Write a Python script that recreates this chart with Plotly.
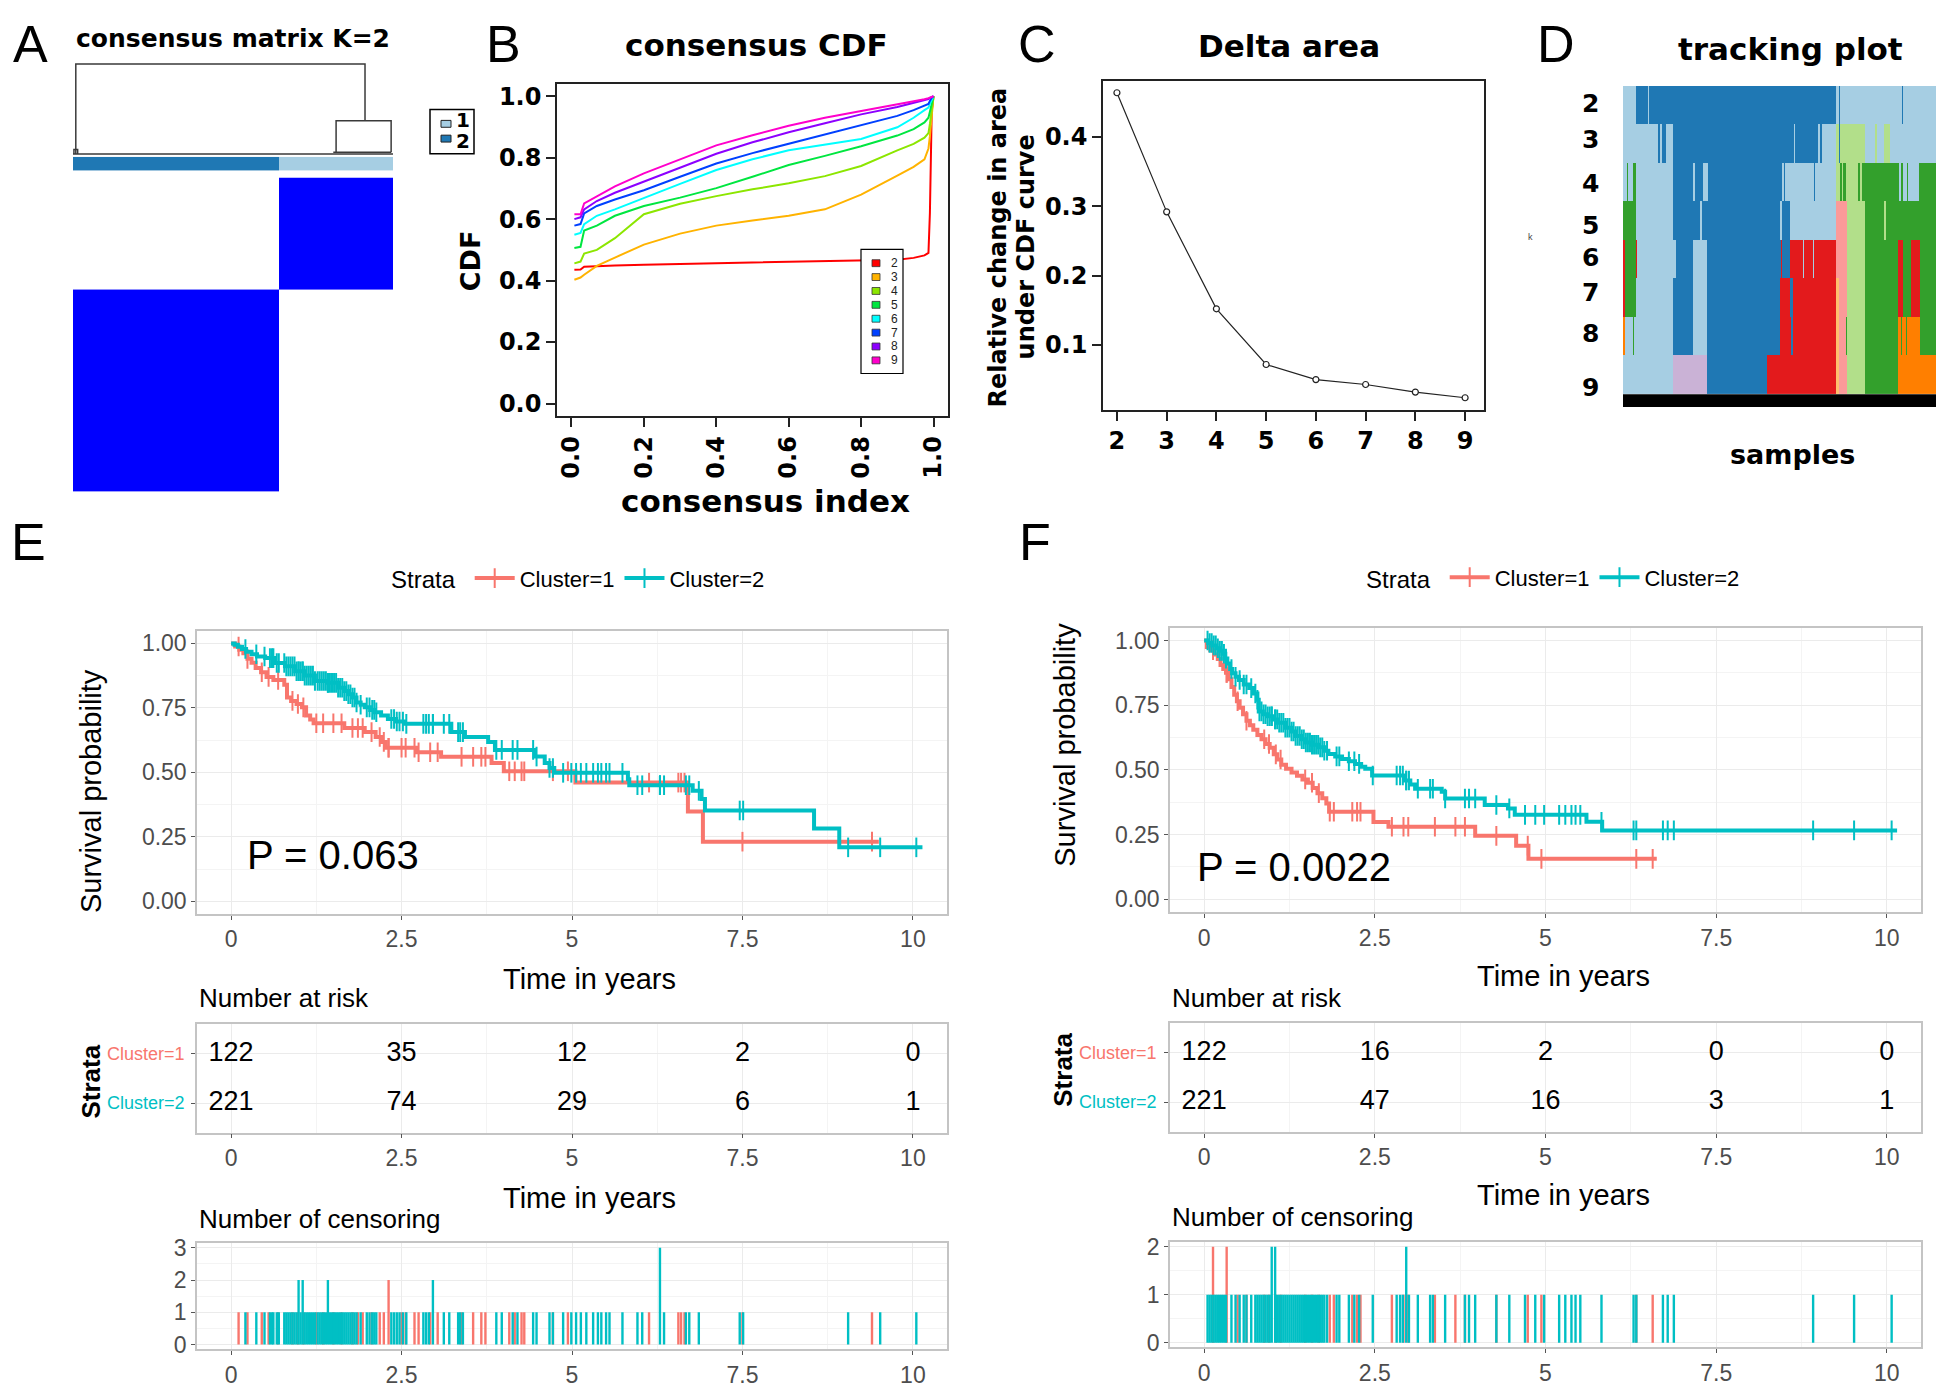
import numpy as np
import plotly.graph_objects as go

W, H = 1944, 1396          # browser window
OX, OY = 8, 8              # default page margin around the plot div
FW, FH = W - 2 * OX, H - 2 * OY
SANS = "Liberation Sans, Arial, sans-serif"
HEAVY = "DejaVu Sans, Verdana, sans-serif"
RED, TEAL = "#F8766D", "#00BFC4"

# ---------------- A: consensus matrix K=2 ----------------
matrix_col_sizes = [221, 122]          # columns: cluster 2 | cluster 1
matrix_row_sizes = [122, 221]          # rows (top to bottom): cluster 1 | cluster 2
matrix_values = [[0.0, 1.0], [1.0, 0.0]]
cluster_bar = [[1, 0]]                 # 1 = cluster 2 (dark), 0 = cluster 1 (light)
cluster_colors = ["#A6CEE3", "#1F78B4"]
dendro_x = [3, 3, 313, 313, None, 282, 282, 341, 341, None, 0, 343, None, 279, 341, None, 1, 1, 5, 5]
dendro_h = [0, 1, 1, 0.37, None, 0.02, 0.37, 0.37, 0.02, None, 0, 0, None, 0.02, 0.02, None, 0, 0.05, 0.05, 0]

# ---------------- B: consensus CDF ----------------
cdf_index = [0.008, 0.025, 0.035, 0.07, 0.12, 0.2, 0.3, 0.4, 0.5, 0.6, 0.7, 0.8, 0.9, 0.945, 0.975, 0.986, 0.99, 0.995, 1.0]
cdf_k2 = [0.435, 0.436, 0.445, 0.447, 0.449, 0.452, 0.454, 0.457, 0.459, 0.461, 0.463, 0.465, 0.468, 0.474, 0.482, 0.49, 0.62, 0.95, 1.0]
cdf_k3 = [0.403, 0.41, 0.419, 0.448, 0.475, 0.517, 0.553, 0.579, 0.596, 0.611, 0.632, 0.68, 0.742, 0.77, 0.795, 0.83, 0.87, 0.95, 1.0]
cdf_k4 = [0.456, 0.462, 0.488, 0.5, 0.538, 0.616, 0.65, 0.675, 0.697, 0.717, 0.74, 0.773, 0.824, 0.845, 0.865, 0.88, 0.91, 0.96, 1.0]
cdf_k5 = [0.506, 0.51, 0.563, 0.579, 0.611, 0.643, 0.67, 0.701, 0.738, 0.776, 0.806, 0.837, 0.872, 0.893, 0.915, 0.93, 0.95, 0.98, 1.0]
cdf_k6 = [0.549, 0.555, 0.584, 0.611, 0.632, 0.67, 0.715, 0.76, 0.795, 0.824, 0.843, 0.861, 0.899, 0.93, 0.955, 0.963, 0.975, 0.99, 1.0]
cdf_k7 = [0.579, 0.584, 0.619, 0.643, 0.664, 0.694, 0.738, 0.781, 0.815, 0.845, 0.876, 0.907, 0.936, 0.955, 0.97, 0.975, 0.985, 0.995, 1.0]
cdf_k8 = [0.6, 0.606, 0.632, 0.659, 0.686, 0.723, 0.768, 0.813, 0.85, 0.883, 0.912, 0.941, 0.965, 0.978, 0.988, 0.991, 0.995, 0.998, 1.0]
cdf_k9 = [0.616, 0.616, 0.651, 0.675, 0.707, 0.749, 0.795, 0.84, 0.873, 0.904, 0.93, 0.952, 0.972, 0.982, 0.99, 0.994, 0.996, 0.998, 1.0]
cdf_curves = {2: cdf_k2, 3: cdf_k3, 4: cdf_k4, 5: cdf_k5, 6: cdf_k6, 7: cdf_k7, 8: cdf_k8, 9: cdf_k9}
cdf_colors = ["#FF0000", "#FFB300", "#8CE600", "#00E640", "#00FFFF", "#0040FF", "#8C00FF", "#FF00CC"]

# ---------------- C: delta area ----------------
delta_k = [2, 3, 4, 5, 6, 7, 8, 9]
delta_area = [0.464, 0.292, 0.152, 0.0716, 0.0498, 0.0427, 0.0317, 0.0236]

# ---------------- D: tracking plot ----------------
n_samples = 343
track_k = [2, 3, 4, 5, 6, 7, 8, 9]
track_palette = ["#A6CEE3", "#1F78B4", "#B2DF8A", "#33A02C", "#FB9A99",
                 "#E31A1C", "#FDBF6F", "#FF7F00", "#CAB2D6"]
# runs of (last sample index, cluster colour code)
track_runs = {
    2: [(14, 0), (27, 1), (28, 0), (233, 1), (237, 0), (238, 1), (306, 0), (307, 1), (343, 0)],
    3: [(38, 0), (41, 1), (43, 0), (47, 1), (55, 0), (187, 1), (189, 0), (214, 1), (216, 0), (218, 1),
        (233, 0), (237, 2), (238, 1), (265, 2), (276, 0), (278, 2), (286, 0), (293, 2), (343, 0)],
    4: [(4, 0), (6, 3), (11, 0), (14, 3), (55, 0), (77, 1), (79, 0), (88, 1), (93, 0), (174, 1), (176, 0),
        (177, 1), (209, 0), (210, 1), (233, 0), (238, 2), (240, 3), (241, 2), (244, 3), (258, 2), (260, 3),
        (262, 2), (303, 3), (305, 0), (307, 3), (311, 0), (312, 3), (324, 0), (343, 3)],
    5: [(14, 3), (55, 0), (84, 1), (87, 0), (172, 1), (174, 0), (183, 1), (233, 0), (246, 4), (265, 2),
        (286, 3), (288, 2), (343, 3)],
    6: [(2, 5), (14, 3), (15, 5), (58, 0), (77, 1), (92, 0), (173, 1), (174, 5), (183, 1), (197, 5), (198, 0),
        (208, 5), (209, 0), (233, 5), (246, 4), (265, 2), (301, 3), (307, 5), (316, 3), (325, 5), (343, 3)],
    7: [(2, 5), (14, 3), (55, 0), (77, 1), (92, 0), (172, 1), (183, 5), (186, 1), (233, 5), (237, 6), (246, 4),
        (265, 2), (301, 3), (307, 5), (316, 3), (325, 5), (343, 3)],
    8: [(2, 7), (5, 0), (6, 3), (11, 0), (12, 3), (55, 0), (77, 1), (92, 0), (172, 1), (184, 5), (186, 1),
        (233, 5), (237, 6), (244, 4), (246, 3), (265, 2), (301, 3), (305, 7), (306, 3), (310, 7), (311, 3),
        (326, 7), (343, 3)],
    9: [(55, 0), (92, 8), (158, 1), (233, 5), (237, 6), (246, 4), (265, 2), (301, 3), (343, 7)],
}

# ---------------- E / F: survival ----------------
risk_times = [0, 2.5, 5, 7.5, 10]

e_c1_t = [0.00, 0.06, 0.12, 0.18, 0.24, 0.30, 0.36, 0.44, 0.52, 0.62, 0.78, 0.82, 0.88, 0.96, 1.04, 1.10, 1.16,
          1.21, 1.66, 1.96, 2.12, 2.20, 2.27, 2.72, 3.08, 3.82, 4.00, 5.05, 6.70, 6.92]
e_c1_s = [1.000, 0.988, 0.975, 0.962, 0.940, 0.925, 0.905, 0.888, 0.870, 0.858, 0.840, 0.790, 0.777, 0.765,
          0.752, 0.720, 0.705, 0.690, 0.672, 0.656, 0.637, 0.618, 0.595, 0.578, 0.560, 0.536, 0.504, 0.460,
          0.348, 0.231]
e_c1_cens = [0.11, 0.24, 0.45, 0.55, 0.69, 0.90, 0.98, 1.06, 1.25, 1.35, 1.50, 1.62, 1.78, 1.86, 1.93, 2.06,
             2.18, 2.24, 2.31, 2.31, 2.50, 2.56, 2.69, 2.75, 2.92, 3.03, 3.38, 3.55, 3.67, 3.73, 4.08, 4.16,
             4.26, 4.30, 4.72, 4.94, 6.13, 6.56, 6.60, 6.65, 7.50, 9.40]
e_c1_last = 9.5

e_c2_t = [0.00, 0.05, 0.10, 0.16, 0.22, 0.30, 0.38, 0.50, 0.64, 0.79, 0.94, 1.08, 1.23, 1.42, 1.57, 1.66, 1.72,
          1.78, 1.84, 1.90, 1.96, 2.04, 2.11, 2.20, 2.30, 2.42, 2.55, 3.23, 3.43, 3.77, 3.87, 4.45, 4.60, 4.67,
          4.74, 5.82, 5.84, 6.77, 6.90, 6.95, 8.55, 8.92]
e_c2_s = [1.000, 0.995, 0.987, 0.978, 0.968, 0.958, 0.949, 0.943, 0.924, 0.911, 0.892, 0.875, 0.854, 0.847,
          0.828, 0.815, 0.803, 0.790, 0.771, 0.762, 0.752, 0.742, 0.733, 0.720, 0.707, 0.697, 0.688, 0.656,
          0.637, 0.618, 0.587, 0.561, 0.536, 0.517, 0.498, 0.473, 0.450, 0.428, 0.396, 0.352, 0.282, 0.209]
e_c2_cens = [0.21, 0.37, 0.49, 0.57, 0.60, 0.62, 0.67, 0.70,
             0.78, 0.81, 0.84, 0.87, 0.90, 0.93, 0.96, 0.99, 0.99, 1.02, 1.05, 1.05, 1.08, 1.11, 1.14, 1.17,
             1.20, 1.23, 1.27, 1.30, 1.33, 1.36, 1.39, 1.42, 1.42, 1.45, 1.48, 1.51, 1.54, 1.57, 1.60, 1.63,
             1.66, 1.69, 1.72, 1.75, 1.78, 1.81, 1.84, 1.90, 1.99, 2.03, 2.07, 2.10, 2.13, 2.35, 2.39, 2.43,
             2.47, 2.52, 2.57, 2.82, 2.86, 2.90, 2.96, 2.96, 3.12, 3.20, 3.33, 3.36, 3.40, 3.89, 3.97, 4.13,
             4.20, 4.43, 4.48, 4.67, 4.72, 4.87, 4.99, 5.06, 5.13, 5.21, 5.31, 5.38, 5.43, 5.50, 5.55, 5.74,
             5.96, 6.03, 6.29, 6.29, 6.29, 6.35, 6.67, 6.72, 6.86, 7.46, 7.51, 9.05, 9.52, 10.05]
e_c2_last = 10.14
e_risk_c1 = [122, 35, 12, 2, 0]
e_risk_c2 = [221, 74, 29, 6, 1]
e_pvalue = "P = 0.063"

f_c1_t = [0.00, 0.04, 0.09, 0.15, 0.20, 0.24, 0.28, 0.32, 0.36, 0.40, 0.44, 0.48, 0.52, 0.57, 0.62, 0.67, 0.72,
          0.78, 0.84, 0.90, 0.96, 1.02, 1.07, 1.13, 1.20, 1.28, 1.36, 1.44, 1.52, 1.59, 1.66, 1.73, 1.79, 1.83,
          2.48, 2.70, 3.97, 4.57, 4.75]
f_c1_s = [1.000, 0.975, 0.962, 0.946, 0.928, 0.905, 0.890, 0.875, 0.850, 0.820, 0.790, 0.765, 0.740, 0.715,
          0.690, 0.672, 0.655, 0.635, 0.618, 0.600, 0.585, 0.560, 0.540, 0.520, 0.504, 0.490, 0.477, 0.463,
          0.450, 0.430, 0.410, 0.390, 0.370, 0.338, 0.298, 0.280, 0.245, 0.207, 0.156]
f_c1_cens = [0.13, 0.13, 0.33, 0.33, 0.49, 0.62, 0.88, 0.95, 1.05, 1.12, 1.48, 1.58, 1.68, 1.84, 1.90, 2.17,
             2.24, 2.29, 2.75, 2.92, 2.99, 3.38, 3.68, 3.82, 4.28, 4.74, 4.94, 6.33, 6.57]
f_c1_last = 6.63

f_c2_t = [0.00, 0.06, 0.12, 0.18, 0.23, 0.27, 0.31, 0.34, 0.38, 0.41, 0.46, 0.51, 0.58, 0.66, 0.72, 0.78, 0.80,
          0.86, 0.92, 1.00, 1.08, 1.19, 1.28, 1.34, 1.42, 1.48, 1.58, 1.68, 1.76, 1.82, 1.92, 2.02, 2.12, 2.21,
          2.30, 2.36, 2.46, 2.94, 3.02, 3.09, 3.48, 3.53, 4.11, 4.45, 4.55, 5.60, 5.83]
f_c2_s = [1.000, 0.990, 0.981, 0.970, 0.960, 0.949, 0.930, 0.911, 0.890, 0.873, 0.860, 0.847, 0.830, 0.816,
          0.795, 0.771, 0.726, 0.715, 0.707, 0.695, 0.682, 0.663, 0.648, 0.631, 0.618, 0.606, 0.597, 0.587,
          0.574, 0.561, 0.552, 0.542, 0.533, 0.523, 0.512, 0.504, 0.478, 0.459, 0.443, 0.427, 0.415, 0.389,
          0.364, 0.351, 0.326, 0.299, 0.266]
f_c2_cens = [0.05, 0.08, 0.11, 0.14, 0.17, 0.20, 0.23, 0.26, 0.29, 0.32, 0.40, 0.46, 0.52, 0.58, 0.62, 0.69,
             0.75, 0.78, 0.81, 0.84, 0.87, 0.90, 0.93, 0.96, 0.99, 0.99, 1.04, 1.04, 1.07, 1.10, 1.13, 1.16,
             1.19, 1.22, 1.25, 1.28, 1.31, 1.34, 1.37, 1.40, 1.43, 1.46, 1.49, 1.52, 1.55, 1.58, 1.61, 1.64,
             1.67, 1.70, 1.73, 1.76, 1.80, 1.94, 1.98, 2.12, 2.20, 2.27, 2.47, 2.82, 2.87, 2.91, 2.96, 2.96,
             3.00, 3.13, 3.31, 3.35, 3.53, 3.82, 3.88, 3.97, 4.28, 4.47, 4.70, 4.85, 4.98, 5.20, 5.29, 5.38,
             5.44, 5.51, 5.82, 6.29, 6.33, 6.72, 6.79, 6.88, 8.92, 9.52, 10.07]
f_c2_last = 10.15
f_risk_c1 = [122, 16, 2, 0, 0]
f_risk_c2 = [221, 47, 16, 3, 1]
f_pvalue = "P = 0.0022"


# ---------------- helpers ----------------
fig = go.Figure()
axes = {}
annotations = []
shapes = []


def px(x):
    return (x - OX) / FW


def py(y):
    return 1 - (y - OY) / FH


def clip(v):
    return max(0.0, min(1.0, v))


def names(n):
    if n == 1:
        return "xaxis", "yaxis", "x", "y"
    return f"xaxis{n}", f"yaxis{n}", f"x{n}", f"y{n}"


def place(n, box, xa, ya):
    x0, y0, x1, y1 = box
    xk, yk, xr, yr = names(n)
    axes[xk] = dict(domain=[clip(px(x0)), clip(px(x1))], anchor=yr, **xa)
    axes[yk] = dict(domain=[clip(py(y1)), clip(py(y0))], anchor=xr, **ya)


def label(text, x, y, size, color="black", family=SANS, weight="normal", angle=0, xa="center", ya="middle"):
    annotations.append(dict(text=text, x=px(x), y=py(y), xref="paper", yref="paper", showarrow=False,
                            textangle=angle, xanchor=xa, yanchor=ya,
                            font=dict(size=size, color=color, family=family, weight=weight)))


def rect(x0, y0, x1, y1, fill="rgba(0,0,0,0)", line="black", width=1):
    shapes.append(dict(type="rect", xref="paper", yref="paper", x0=px(x0), x1=px(x1),
                       y0=py(y1), y1=py(y0), fillcolor=fill, line=dict(color=line, width=width)))


def surv_at(t_steps, s_steps, when):
    idx = np.searchsorted(t_steps, when, side="right") - 1
    return np.asarray(s_steps)[idx]


# panel letters
for letter, (lx, ly) in {"A": (30, 36), "B": (504, 36), "C": (1037, 36), "D": (1556, 36),
                         "E": (28, 542), "F": (1035, 542)}.items():
    label(letter, lx, ly, 52)

# ---------------- A ----------------
col_edges = np.concatenate([[0], np.cumsum(matrix_col_sizes)])
row_edges = np.concatenate([[0], np.cumsum(matrix_row_sizes)])
hide = dict(visible=False)
place(1, (73, 172, 393, 491), dict(range=[0, n_samples], **hide), dict(range=[n_samples, 0], **hide))
place(2, (73, 55, 393, 150), dict(range=[0, n_samples], **hide), dict(range=[-0.02, 1.02], **hide))
place(3, (73, 151, 393, 165), dict(range=[0, n_samples], **hide), dict(range=[0, 1], **hide))
fig.add_trace(go.Heatmap(x=col_edges, y=row_edges, z=matrix_values, zmin=0, zmax=1,
                         colorscale=[[0, "white"], [1, "#0000FF"]], showscale=False,
                         xaxis="x", yaxis="y", hoverinfo="skip"))
fig.add_trace(go.Scatter(x=dendro_x, y=dendro_h, mode="lines", line=dict(color="#3A3A3A", width=1.5),
                         xaxis="x2", yaxis="y2", showlegend=False, cliponaxis=False, hoverinfo="skip"))
fig.add_trace(go.Heatmap(x=col_edges, y=[0, 1], z=cluster_bar, zmin=0, zmax=1,
                         colorscale=[[0, cluster_colors[0]], [1, cluster_colors[1]]], showscale=False,
                         xaxis="x3", yaxis="y3", hoverinfo="skip"))
label("consensus matrix K=2", 233, 31, 25, family=HEAVY, weight="bold")
rect(430, 103, 474, 148, width=1.5)
for i, c in enumerate(cluster_colors):
    rect(441, 114 + 15 * i, 451, 121 + 15 * i, fill=c, line="#222")
    label(str(i + 1), 463, 114 + 21 * i, 20, family=HEAVY, weight="bold")

# ---------------- B ----------------
bold_tick = dict(family=HEAVY, size=24, color="black", weight="bold")
rbox = dict(showline=True, mirror=True, linecolor="#222", linewidth=1.5, ticks="outside", ticklen=9,
            tickwidth=1.5, tickcolor="#222", showgrid=False, zeroline=False, tickfont=bold_tick)
unit_ticks = dict(tickmode="linear", tick0=0, dtick=0.2, tickformat=".1f")
place(4, (557, 77, 948, 414), dict(range=[-0.04, 1.04], tickangle=-90, **unit_ticks, **rbox),
      dict(range=[-0.04, 1.04], **unit_ticks, **rbox))
for (k, vals), col in zip(cdf_curves.items(), cdf_colors):
    fig.add_trace(go.Scatter(x=cdf_index, y=vals, mode="lines", line=dict(color=col, width=2),
                             xaxis="x4", yaxis="y4", showlegend=False, hoverinfo="skip"))
label("consensus CDF", 756, 37, 31, family=HEAVY, weight="bold")
label("consensus index", 765, 500, 31, family=HEAVY, weight="bold")
label("CDF", 470, 257, 27, family=HEAVY, weight="bold", angle=-90)
rect(861, 245, 903, 371, fill="white", width=1.2)
for i, (k, col) in enumerate(zip(cdf_curves, cdf_colors)):
    yy = 259 + i * 14.1
    rect(872, yy - 3.5, 880, yy + 3.5, fill=col, line="#333", width=0.8)
    label(str(k), 894, yy, 12, color="#222")

# ---------------- C ----------------
place(5, (1103, 74, 1484, 408), dict(range=[1.72, 9.38], tickvals=delta_k, **rbox),
      dict(range=[0.006, 0.481], tickvals=[0.1, 0.2, 0.3, 0.4], tickformat=".1f", **rbox))
fig.add_trace(go.Scatter(x=delta_k, y=delta_area, mode="lines+markers",
                         line=dict(color="#222", width=1.2),
                         marker=dict(symbol="circle", size=6, color="white", line=dict(color="#222", width=1.2)),
                         xaxis="x5", yaxis="y5", showlegend=False, hoverinfo="skip"))
label("Delta area", 1289, 38, 31, family=HEAVY, weight="bold")
label("Relative change in area", 998, 243, 24, family=HEAVY, weight="bold", angle=-90)
label("under CDF curve", 1026, 243, 24, family=HEAVY, weight="bold", angle=-90)

# ---------------- D ----------------
track_z = []
for k in track_k:
    row, start = [], 0
    for end, code in track_runs[k]:
        row += [code] * (end - start)
        start = end
    track_z.append(row)
scale = []
for i, c in enumerate(track_palette):
    scale += [[i / len(track_palette), c], [(i + 1) / len(track_palette), c]]
place(6, (1623, 79, 1943, 392), dict(range=[-0.5, n_samples - 0.5], **hide), dict(range=[9.5, 1.5], **hide))
fig.add_trace(go.Heatmap(x=np.arange(n_samples), y=track_k, z=track_z, zmin=-0.5,
                         zmax=len(track_palette) - 0.5, colorscale=scale, showscale=False,
                         xaxis="x6", yaxis="y6", hoverinfo="skip"))
rect(1623, 392, 1943, 405, fill="black", line="black", width=0)
for k, ly in zip(track_k, [97, 133, 178, 221, 253, 289, 330, 385]):
    label(str(k), 1590, ly, 25, family=HEAVY, weight="bold")
label("tracking plot", 1790, 42, 31, family=HEAVY, weight="bold")
label("samples", 1792, 453, 27, family=HEAVY, weight="bold")
label("k", 1530, 232, 9, color="#444")

# ---------------- E / F ----------------
tick_font = dict(family=SANS, size=23, color="#4D4D4D")
gg = dict(showgrid=True, gridcolor="#EBEBEB", gridwidth=1.4, zeroline=False, showline=True, mirror=True,
          linecolor="#C4C4C4", linewidth=1.5, ticks="outside", ticklen=4, tickcolor="#555", tickwidth=1.2,
          tickfont=tick_font)
time_axis = dict(range=[-0.5, 10.5], tickvals=risk_times, ticktext=["0", "2.5", "5", "7.5", "10"],
                 minor=dict(tickvals=[1.25, 3.75, 6.25, 8.75], showgrid=True, gridcolor="#F4F4F4",
                            gridwidth=1), **gg)


def survival_panel(base, boxes, groups, risks, pvalue, p_at, legend_id, texts):
    km, tab, cen = base, base + 1, base + 2
    place(km, boxes[0], time_axis,
          dict(range=[-0.05, 1.05], tickvals=[0, 0.25, 0.5, 0.75, 1.0], tickformat=".2f",
               minor=dict(tickvals=[0.125, 0.375, 0.625, 0.875], showgrid=True, gridcolor="#F4F4F4",
                          gridwidth=1), **gg))
    place(tab, boxes[1], time_axis, dict(range=[0.4, 2.6], tickvals=[1, 2], showticklabels=False, **gg))
    counts_max = max(np.unique(g[2], return_counts=True)[1].max() for g in groups)
    place(cen, boxes[2], time_axis,
          dict(range=[-0.05 * counts_max, counts_max * 1.05], tickvals=list(range(counts_max + 1)),
               minor=dict(tickvals=[v + 0.5 for v in range(counts_max)], showgrid=True,
                          gridcolor="#F4F4F4", gridwidth=1), **gg))
    xk, yk = f"x{km}", f"y{km}"
    for (t, s, cens, last, name, color), row, risk in zip(groups, [2, 1], risks):
        fig.add_trace(go.Scatter(x=list(t) + [last], y=list(s) + [s[-1]], mode="lines", line_shape="hv",
                                 line=dict(color=color, width=4), xaxis=xk, yaxis=yk,
                                 showlegend=False, hoverinfo="skip"))
        fig.add_trace(go.Scatter(x=cens, y=surv_at(t, s, cens), mode="markers",
                                 marker=dict(symbol="line-ns", size=14, line=dict(color=color, width=2)),
                                 xaxis=xk, yaxis=yk, showlegend=False, hoverinfo="skip"))
        fig.add_trace(go.Scatter(x=[None], y=[None], mode="lines+markers", name=name, legend=legend_id,
                                 line=dict(color=color, width=4),
                                 marker=dict(symbol="line-ns", size=14, line=dict(color=color, width=2)),
                                 xaxis=xk, yaxis=yk))
        # risk table
        fig.add_trace(go.Scatter(x=risk_times, y=[row] * len(risk_times), mode="text",
                                 text=[str(v) for v in risk], textfont=dict(family=SANS, size=27, color="black"),
                                 xaxis=f"x{tab}", yaxis=f"y{tab}", showlegend=False, hoverinfo="skip"))
        annotations.append(dict(text=name, x=-0.014, y=row, xref=f"x{tab} domain", yref=f"y{tab}",
                                xanchor="right", yanchor="middle", showarrow=False,
                                font=dict(family=SANS, size=18, color=color)))
        # censoring counts
        ct, cn = np.unique(cens, return_counts=True)
        fig.add_trace(go.Bar(x=ct, y=cn, width=0.035, marker=dict(color=color, line=dict(width=0)),
                             xaxis=f"x{cen}", yaxis=f"y{cen}", showlegend=False, hoverinfo="skip"))
    annotations.append(dict(text=pvalue, x=p_at[0], y=p_at[1], xref=xk, yref=yk, xanchor="left",
                            yanchor="middle", showarrow=False, font=dict(family=SANS, size=40, color="black")))
    for txt, (tx, ty, size, weight, angle, xa) in texts.items():
        label(txt.split("#")[0], tx, ty, size, weight=weight, angle=angle, xa=xa)


survival_panel(
    7, [(197, 632, 947, 920), (197, 1032, 947, 1142), (197, 1254, 947, 1362)],
    [(e_c1_t, e_c1_s, e_c1_cens, e_c1_last, "Cluster=1", RED),
     (e_c2_t, e_c2_s, e_c2_cens, e_c2_last, "Cluster=2", TEAL)],
    [e_risk_c1, e_risk_c2], e_pvalue, (0.2, 0.18), "legend",
    {"Survival probability": (91, 795, 29, "normal", -90, "center"),
     "Time in years#1": (589, 986, 29, "normal", 0, "center"),
     "Time in years#2": (589, 1208, 29, "normal", 0, "center"),
     "Number at risk": (197, 1005, 26, "normal", 0, "left"),
     "Number of censoring": (197, 1230, 26, "normal", 0, "left"),
     "Strata": (91, 1090, 26, "bold", -90, "center")})

survival_panel(
    10, [(1170, 629, 1921, 918), (1170, 1031, 1921, 1141), (1170, 1253, 1921, 1360)],
    [(f_c1_t, f_c1_s, f_c1_cens, f_c1_last, "Cluster=1", RED),
     (f_c2_t, f_c2_s, f_c2_cens, f_c2_last, "Cluster=2", TEAL)],
    [f_risk_c1, f_risk_c2], f_pvalue, (-0.13, 0.125), "legend2",
    {"Survival probability#F": (1065, 748, 29, "normal", -90, "center"),
     "Time in years#F1": (1563, 983, 29, "normal", 0, "center"),
     "Time in years#F2": (1563, 1205, 29, "normal", 0, "center"),
     "Number at risk#F": (1170, 1005, 26, "normal", 0, "left"),
     "Number of censoring#F": (1170, 1228, 26, "normal", 0, "left"),
     "Strata#F": (1063, 1078, 26, "bold", -90, "center")})

legend_style = dict(orientation="h", xanchor="left", yanchor="middle", bgcolor="rgba(0,0,0,0)",
                    font=dict(family=SANS, size=22, color="black"), itemwidth=40,
                    title=dict(text="Strata ", font=dict(family=SANS, size=24, color="black")))

fig.update_layout(
    width=FW, height=FH, margin=dict(l=0, r=0, t=0, b=0),
    paper_bgcolor="white", plot_bgcolor="white",
    font=dict(family=SANS, color="black"),
    barmode="overlay", showlegend=True,
    legend=dict(x=px(389), y=py(579), **legend_style),
    legend2=dict(x=px(1364), y=py(578), **legend_style),
    annotations=annotations, shapes=shapes,
    **axes,
)

fig.write_html("out.html")
